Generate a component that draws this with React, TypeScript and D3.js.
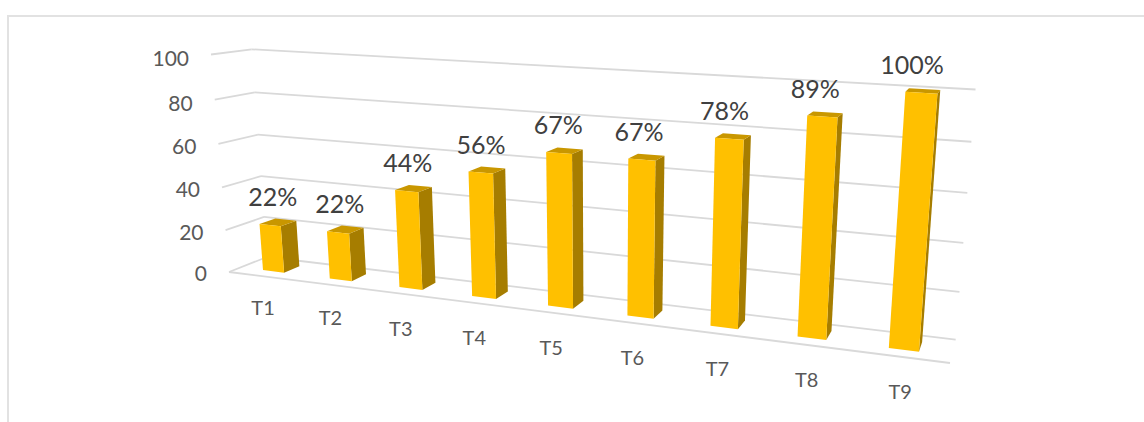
import React from "react";
import * as d3 from "d3";

const categories = ["T1", "T2", "T3", "T4", "T5", "T6", "T7", "T8", "T9"];
const values = [22.2, 22.2, 44.4, 55.6, 66.7, 66.7, 77.8, 88.9, 100];
const labels = ["22%", "22%", "44%", "56%", "67%", "67%", "78%", "89%", "100%"];
const ticks = [0, 20, 40, 60, 80, 100];

// Screen positions of the plot box corners + perspective terms
const A = [229, 272]; // front-left floor
const D = [950, 363]; // front-right floor
const B = [267, 257]; // back-left floor
const G = [211, 54.5]; // front-left top
const pa = -0.1855, pb = 0.0485, pc = -0.046;

const uScale = d3.scaleBand<string>().domain(categories).range([-0.007, 1.007]).paddingInner(0.68).paddingOuter(0.405);
const vScale = d3.scaleLinear().domain([0, 100]).range([0, 1]);
const labelDx = d3.scaleLinear().domain([0, 4, 8]).range([1, -1.5, -1]);
const labelDy = d3.scaleLinear().domain([0, 2, 8]).range([32, 35, 35]);
const valueDx = d3.scaleLinear().domain([0, 4, 8]).range([-5, -6, -11]);
const tickDy = d3.scaleLinear().domain([0, 100]).range([9, 11.5]);

function project(u: number, d: number, val: number): [number, number] {
  const v = vScale(val);
  const w = 1 + pa * u + pb * d + pc * v;
  const f = (i: number) =>
    (A[i] +
      u * (D[i] * (1 + pa) - A[i]) +
      d * (B[i] * (1 + pb) - A[i]) +
      v * (G[i] * (1 + pc) - A[i])) /
    w;
  return [f(0), f(1)];
}

const poly = (pts: [number, number][]) => d3.line()(pts)! + "Z";
const seg = (a: [number, number], b: [number, number]) => d3.line()([a, b])!;

const D0 = 0.3, D1 = 0.72;
const FRONT = "#FFC000", SIDE = "#A67D00", TOP = "#C99700", GRID = "#D9D9D9";

export default function App() {
  return (
    <svg width={1144} height={422} style={{ position: "absolute", left: 0, top: 0, background: "#fff" }}>
      <path d="M8 422V16H1144" fill="none" stroke="#E2E2E2" strokeWidth={2} />
      {ticks.map((t) => (
        <g key={t} fill="none" stroke={GRID} strokeWidth={1.8}>
          <path d={seg(project(0, 0, t), project(0, 1, t))} />
          <path d={seg(project(0, 1, t), project(1, 1, t))} />
        </g>
      ))}
      <path d={seg(project(0, 0, 0), project(1, 0, 0))} fill="none" stroke={GRID} strokeWidth={1.8} />
      {ticks.map((t) => {
        const [x, y] = project(0, 0, t);
        return (
          <text key={t} x={x - 22} y={y + tickDy(t)} textAnchor="end" fontFamily="Lato" fontSize={21} fill="#595959">
            {t}
          </text>
        );
      })}
      {categories.map((c, i) => {
        const u0 = uScale(c)!;
        const u1 = u0 + uScale.bandwidth();
        const uc = (u0 + u1) / 2;
        const val = values[i];
        const [lx, ly] = project(uc, 0, 0);
        const [tx, ty] = project(uc, 0.5, val);
        return (
          <g key={c}>
            <path
              d={poly([project(u1, D0, 0), project(u1, D1, 0), project(u1, D1, val), project(u1, D0, val)])}
              fill={SIDE}
            />
            <path
              d={poly([project(u0, D0, val), project(u1, D0, val), project(u1, D1, val), project(u0, D1, val)])}
              fill={TOP}
            />
            <path
              d={poly([project(u0, D0, 0), project(u1, D0, 0), project(u1, D0, val), project(u0, D0, val)])}
              fill={FRONT}
            />
            <text x={tx + valueDx(i)} y={ty - 16.5} textAnchor="middle" fontFamily="Lato" fontSize={25} fill="#404040">
              {labels[i]}
            </text>
            <text x={lx + labelDx(i)} y={ly + labelDy(i) + 7} textAnchor="middle" fontFamily="Lato" fontSize={20} fill="#595959">
              {c}
            </text>
          </g>
        );
      })}
    </svg>
  );
}
